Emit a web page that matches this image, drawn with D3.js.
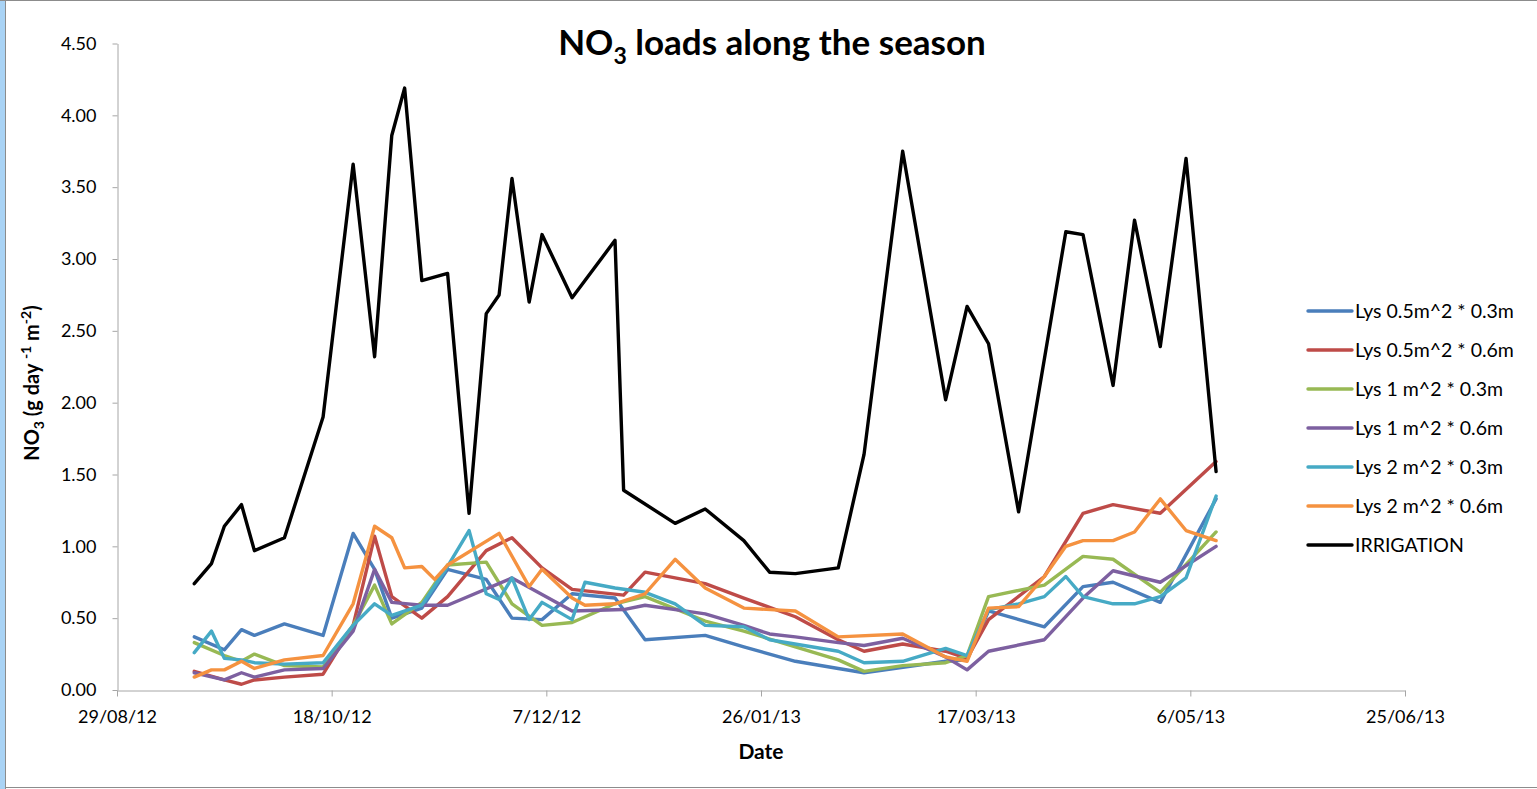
<!DOCTYPE html>
<html>
<head>
<meta charset="utf-8">
<script src="https://cdn.jsdelivr.net/npm/d3@7"></script>
<style>
  html, body { margin: 0; padding: 0; background: #fff; }
  svg { display: block; }
  text { font-family: Lato, "Open Sans", sans-serif; fill: #000; }
</style>
</head>
<body>
<svg id="chart" width="1537" height="789"></svg>
<script>
// ---------- data ----------
const xTickLabels = ["29/08/12", "18/10/12", "7/12/12", "26/01/13", "17/03/13", "6/05/13", "25/06/13"];
const yTickValues = [0, 0.5, 1, 1.5, 2, 2.5, 3, 3.5, 4, 4.5];

const seriesNames = ["Lys 0.5m^2 * 0.3m", "Lys 0.5m^2 * 0.6m", "Lys 1 m^2 * 0.3m",
                     "Lys 1 m^2 * 0.6m", "Lys 2 m^2 * 0.3m", "Lys 2 m^2 * 0.6m", "IRRIGATION"];
const seriesColors = ["#4A7EBB", "#BE4B48", "#98B954", "#7D60A0", "#46AAC5", "#F59240", "#000000"];

const lys05x03 = [
  ["2012-09-16",0.37],["2012-09-23",0.28],["2012-09-27",0.42],["2012-09-30",0.38],["2012-10-07",0.46],
  ["2012-10-16",0.38],["2012-10-23",1.09],["2012-10-28",0.84],["2012-11-01",0.50],["2012-11-08",0.57],
  ["2012-11-14",0.84],["2012-11-23",0.77],["2012-11-29",0.50],["2012-12-06",0.49],["2012-12-13",0.67],
  ["2012-12-23",0.64],["2012-12-30",0.35],["2013-01-13",0.38],["2013-01-22",0.30],["2013-02-03",0.20],
  ["2013-02-13",0.15],["2013-02-19",0.12],["2013-03-10",0.20],["2013-03-15",0.21],["2013-03-20",0.55],
  ["2013-04-02",0.44],["2013-04-11",0.72],["2013-04-18",0.75],["2013-04-29",0.61],["2013-05-12",1.33]
];
const lys05x06 = [
  ["2012-09-16",0.13],["2012-09-23",0.07],["2012-09-27",0.04],["2012-09-30",0.07],["2012-10-07",0.09],
  ["2012-10-16",0.11],["2012-10-23",0.45],["2012-10-28",1.07],["2012-11-01",0.65],["2012-11-08",0.50],
  ["2012-11-14",0.65],["2012-11-23",0.97],["2012-11-29",1.06],["2012-12-06",0.85],["2012-12-13",0.70],
  ["2012-12-25",0.66],["2012-12-30",0.82],["2013-01-06",0.78],["2013-01-13",0.74],["2013-01-22",0.64],
  ["2013-02-03",0.51],["2013-02-13",0.35],["2013-02-19",0.27],["2013-02-28",0.32],["2013-03-10",0.27],
  ["2013-03-15",0.22],["2013-03-20",0.49],["2013-04-02",0.79],["2013-04-11",1.23],["2013-04-18",1.29],
  ["2013-04-29",1.23],["2013-05-12",1.59]
];
const lys1x03 = [
  ["2012-09-16",0.33],["2012-09-23",0.24],["2012-09-27",0.20],["2012-09-30",0.25],["2012-10-07",0.17],
  ["2012-10-16",0.16],["2012-10-23",0.45],["2012-10-28",0.73],["2012-11-01",0.46],["2012-11-08",0.61],
  ["2012-11-14",0.87],["2012-11-23",0.89],["2012-11-29",0.60],["2012-12-06",0.45],["2012-12-13",0.47],
  ["2012-12-23",0.60],["2012-12-30",0.65],["2013-01-13",0.48],["2013-01-22",0.41],["2013-02-03",0.30],
  ["2013-02-13",0.21],["2013-02-19",0.13],["2013-02-28",0.17],["2013-03-10",0.19],["2013-03-15",0.24],
  ["2013-03-20",0.65],["2013-04-02",0.73],["2013-04-11",0.93],["2013-04-18",0.91],["2013-04-29",0.68],
  ["2013-05-12",1.10]
];
const lys1x06 = [
  ["2012-09-16",0.12],["2012-09-23",0.07],["2012-09-27",0.12],["2012-09-30",0.09],["2012-10-07",0.14],
  ["2012-10-16",0.15],["2012-10-23",0.41],["2012-10-28",0.84],["2012-11-01",0.61],["2012-11-08",0.59],
  ["2012-11-14",0.59],["2012-11-29",0.78],["2012-12-13",0.55],["2012-12-25",0.56],["2012-12-30",0.59],
  ["2013-01-13",0.53],["2013-01-22",0.45],["2013-01-28",0.39],["2013-02-03",0.37],["2013-02-13",0.33],
  ["2013-02-19",0.31],["2013-02-28",0.36],["2013-03-10",0.23],["2013-03-15",0.14],["2013-03-20",0.27],
  ["2013-04-02",0.35],["2013-04-11",0.64],["2013-04-18",0.83],["2013-04-29",0.75],["2013-05-12",1.00]
];
const lys2x03 = [
  ["2012-09-16",0.26],["2012-09-20",0.41],["2012-09-23",0.22],["2012-09-27",0.21],["2012-09-30",0.19],
  ["2012-10-07",0.18],["2012-10-16",0.19],["2012-10-23",0.45],["2012-10-28",0.60],["2012-11-01",0.52],
  ["2012-11-08",0.59],["2012-11-14",0.86],["2012-11-19",1.11],["2012-11-23",0.67],["2012-11-26",0.63],
  ["2012-11-29",0.78],["2012-12-03",0.49],["2012-12-06",0.61],["2012-12-13",0.49],["2012-12-16",0.75],
  ["2012-12-23",0.71],["2012-12-30",0.68],["2013-01-06",0.60],["2013-01-13",0.45],["2013-01-22",0.44],
  ["2013-01-28",0.35],["2013-02-13",0.27],["2013-02-19",0.19],["2013-02-28",0.20],["2013-03-10",0.29],
  ["2013-03-15",0.24],["2013-03-20",0.56],["2013-03-27",0.60],["2013-04-02",0.65],["2013-04-07",0.79],
  ["2013-04-11",0.65],["2013-04-18",0.60],["2013-04-23",0.60],["2013-04-29",0.65],["2013-05-05",0.78],
  ["2013-05-12",1.35]
];
const lys2x06 = [
  ["2012-09-16",0.09],["2012-09-20",0.14],["2012-09-23",0.14],["2012-09-27",0.20],["2012-09-30",0.15],
  ["2012-10-07",0.21],["2012-10-16",0.24],["2012-10-23",0.60],["2012-10-28",1.14],["2012-11-01",1.06],
  ["2012-11-04",0.85],["2012-11-08",0.86],["2012-11-11",0.77],["2012-11-14",0.87],["2012-11-26",1.09],
  ["2012-12-03",0.72],["2012-12-06",0.84],["2012-12-13",0.64],["2012-12-16",0.59],["2012-12-23",0.60],
  ["2012-12-30",0.67],["2013-01-06",0.91],["2013-01-13",0.71],["2013-01-22",0.57],["2013-02-03",0.55],
  ["2013-02-13",0.37],["2013-02-28",0.39],["2013-03-10",0.23],["2013-03-15",0.20],["2013-03-20",0.57],
  ["2013-03-27",0.58],["2013-04-02",0.79],["2013-04-07",1.00],["2013-04-11",1.04],["2013-04-18",1.04],
  ["2013-04-23",1.10],["2013-04-29",1.33],["2013-05-05",1.11],["2013-05-12",1.04]
];
const irrigation = [
  ["2012-09-16",0.74],["2012-09-20",0.88],["2012-09-23",1.14],["2012-09-27",1.29],["2012-09-30",0.97],
  ["2012-10-07",1.06],["2012-10-16",1.90],["2012-10-23",3.66],["2012-10-28",2.32],["2012-11-01",3.86],
  ["2012-11-04",4.19],["2012-11-08",2.85],["2012-11-14",2.90],["2012-11-19",1.23],["2012-11-23",2.62],
  ["2012-11-26",2.75],["2012-11-29",3.56],["2012-12-03",2.70],["2012-12-06",3.17],["2012-12-13",2.73],
  ["2012-12-23",3.13],["2012-12-25",1.39],["2013-01-06",1.16],["2013-01-13",1.26],["2013-01-22",1.04],
  ["2013-01-28",0.82],["2013-02-03",0.81],["2013-02-13",0.85],["2013-02-19",1.64],["2013-02-28",3.75],
  ["2013-03-10",2.02],["2013-03-15",2.67],["2013-03-20",2.41],["2013-03-27",1.24],["2013-04-07",3.19],
  ["2013-04-11",3.17],["2013-04-18",2.12],["2013-04-23",3.27],["2013-04-29",2.39],["2013-05-05",3.70],
  ["2013-05-12",1.52]
];

const allSeries = [lys05x03, lys05x06, lys1x03, lys1x06, lys2x03, lys2x06, irrigation];

// ---------- drawing ----------
const svg = d3.select("#chart");
const parseISO = d3.timeParse("%Y-%m-%d");
const parseTick = d3.timeParse("%d/%m/%y");
const tickDates = xTickLabels.map(parseTick);

// frame
svg.append("rect").attr("x", 0).attr("y", 0).attr("width", 1537).attr("height", 789).attr("fill", "#fff");
svg.append("rect").attr("x", 0).attr("y", 0).attr("width", 5).attr("height", 789).attr("fill", "#A9D3F5");
svg.append("line").attr("x1", 5.5).attr("x2", 5.5).attr("y1", 0).attr("y2", 789).attr("stroke", "#8c8c8c");
svg.append("line").attr("x1", 0).attr("x2", 1537).attr("y1", 0.5).attr("y2", 0.5).attr("stroke", "#8c8c8c");
svg.append("line").attr("x1", 5).attr("x2", 1537).attr("y1", 787.5).attr("y2", 787.5).attr("stroke", "#8c8c8c");

const x = d3.scaleTime().domain([tickDates[0], tickDates[tickDates.length - 1]]).range([117, 1405]);
const y = d3.scaleLinear().domain([0, 4.5]).range([690, 43.5]);

const axisColor = "#A6A6A6";

const yAxis = d3.axisLeft(y).tickValues(yTickValues).tickFormat(d3.format(".2f")).tickSizeInner(5).tickSizeOuter(0).tickPadding(16);
const gy = svg.append("g").attr("transform", "translate(117.5,0)").call(yAxis);
gy.selectAll("path, line").attr("stroke", axisColor);
gy.selectAll("text").style("font-size", "18px").style("font-family", "Lato, sans-serif").attr("fill", "#404040");

const xAxis = d3.axisBottom(x).tickValues(tickDates).tickFormat((d, i) => xTickLabels[i]).tickSizeInner(6).tickSizeOuter(0).tickPadding(14);
const gx = svg.append("g").attr("transform", "translate(0,690.5)").call(xAxis);
gx.selectAll("path, line").attr("stroke", axisColor);
gx.selectAll("text").style("font-size", "18px").style("font-family", "Lato, sans-serif").attr("fill", "#404040");

// lines
const line = d3.line().x(d => x(parseISO(d[0]))).y(d => y(d[1]));
allSeries.forEach((s, i) => {
  svg.append("path").datum(s).attr("d", line)
    .attr("fill", "none").attr("stroke", seriesColors[i])
    .attr("stroke-width", 3.4).attr("stroke-linejoin", "round").attr("stroke-linecap", "round");
});

// title
const title = svg.append("text").attr("x", 772).attr("y", 55).attr("text-anchor", "middle")
  .style("font-size", "35px").style("font-weight", "bold");
title.append("tspan").text("NO");
title.append("tspan").text("3").style("font-size", "23px").attr("dy", 9);
title.append("tspan").text(" loads along the season").attr("dy", -9);

// y axis title
const yt = svg.append("text").attr("transform", "translate(39,383) rotate(-90)").attr("text-anchor", "middle")
  .style("font-size", "20px").style("font-weight", "bold");
yt.append("tspan").text("NO");
yt.append("tspan").text("3").style("font-size", "14px").attr("dy", 5);
yt.append("tspan").text(" (g day ").attr("dy", -5);
yt.append("tspan").text("-1").style("font-size", "14px").attr("dy", -8);
yt.append("tspan").text(" m").attr("dy", 8);
yt.append("tspan").text("-2").style("font-size", "14px").attr("dy", -8);
yt.append("tspan").text(")").attr("dy", 8);

// x axis title
svg.append("text").attr("x", 761).attr("y", 759).attr("text-anchor", "middle")
  .style("font-size", "21px").style("font-weight", "bold").text("Date");

// legend
const legend = svg.append("g");
seriesNames.forEach((name, i) => {
  const ly = 311 + i * 39;
  legend.append("line").attr("x1", 1308).attr("x2", 1352).attr("y1", ly).attr("y2", ly)
    .attr("stroke", seriesColors[i]).attr("stroke-width", 3.4).attr("stroke-linecap", "round");
  legend.append("text").attr("x", 1355).attr("y", ly + 7).style("font-size", "19.5px")
    .attr("fill", "#000").text(name);
});
</script>
</body>
</html>
